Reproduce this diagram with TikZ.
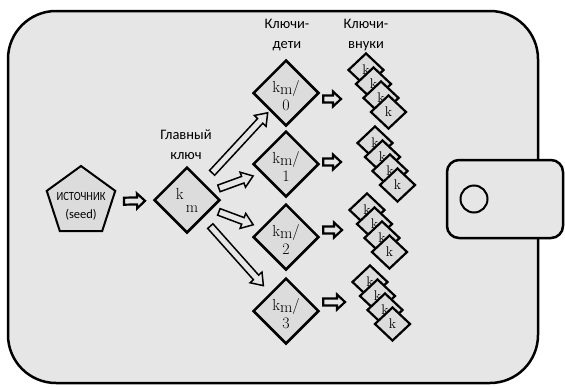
\documentclass[tikz,border=0pt]{standalone}
\usepackage{fontspec}
\newfontfamily\lblfont{Carlito}
\newfontfamily\condfont[FakeStretch=0.84]{Carlito}
\usetikzlibrary{shapes.geometric,calc}
\definecolor{wbg}{HTML}{E6E6E6}
\definecolor{dfill}{HTML}{DCDCDC}
\tikzset{
  harrow/.style n args={5}{to path={
    let \p1=($(\tikztostart)!#1!(\tikztotarget)$),
        \p2=($(\tikztotarget)!#2!(\tikztostart)$),
        \n1={atan2(\y2-\y1,\x2-\x1)}
    in ($(\p1)+(\n1+90:#3)$)
    -- ($(\p2)+(\n1:-#5)+(\n1+90:#3)$)
    -- ($(\p2)+(\n1:-#5)+(\n1+90:#4)$)
    -- (\p2)
    -- ($(\p2)+(\n1:-#5)+(\n1-90:#4)$)
    -- ($(\p2)+(\n1:-#5)+(\n1-90:#3)$)
    -- ($(\p1)+(\n1-90:#3)$) -- cycle}},
  bigarrow/.style 2 args={draw, line width=1.5pt, line join=miter, harrow={#1}{#2}{3.5pt}{8pt}{11pt}},
  smallarrow/.style 2 args={draw, line width=2.2pt, line join=miter, harrow={#1}{#2}{3.5pt}{7.5pt}{8pt}},
  kdia/.style={diamond, aspect=1, draw, line width=2.5pt, fill=dfill, inner sep=0pt, minimum width=66pt, minimum height=66pt},
  gdia/.style={diamond, aspect=1, draw, line width=2.2pt, fill=dfill, inner sep=0pt, minimum width=36pt, minimum height=34pt, font=\fontsize{14}{16}\selectfont},
  ktext/.style={font=\fontsize{16}{18}\selectfont, align=center, inner sep=0pt},
  lbl/.style={font=\lblfont\fontsize{14.5}{20}\selectfont, align=center, inner sep=0pt},
}
\begin{document}
\begin{tikzpicture}[x=1pt, y=-1pt]
\useasboundingbox (0,0) rectangle (565,386);
% wallet
\draw[line width=2.5pt, fill=wbg, rounded corners=48pt] (8,11) rectangle (538,383);
\draw[line width=2.5pt, fill=wbg, rounded corners=12pt] (447,160) rectangle (563,238);
\node[circle, draw, line width=2pt, minimum size=27pt, inner sep=0pt] (hole) at (474,199) {};
% labels
\node[lbl] (lchild) at (287,35) {Ключи-\\дети};
\node[lbl] (lgrand) at (366,35) {Ключи-\\внуки};
\node[lbl] (lmaster) at (186,145) {Главный\\ключ};
% source
\node[regular polygon, regular polygon sides=5, draw, line width=2pt, fill=dfill, minimum size=72pt, inner sep=0pt,
  label={[font=\lblfont\fontsize{12.5}{18}\selectfont, align=center, inner sep=0pt, yshift=-4pt]center:{\condfont ИСТОЧНИК}\\(seed)}] (src) at (81,202) {};
% master key
\node[kdia, label={[font=\fontsize{16}{13}\selectfont, align=left, inner sep=0pt]center:k\\\hspace*{10pt}m}] (km) at (187,200) {};
% children
\foreach \i/\y in {0/93,1/164,2/237,3/311}{
  \node[kdia, label={[ktext, yshift=-3pt]center:k\raisebox{-2pt}{m}/\\\i}] (k\i) at (286,\y) {};
}
% grandchildren
\foreach \i/\x/\y in {0/366/70,1/375/143,2/367/210,3/370/282}{
  \node[gdia] (g\i a) at (\x,\y) {k};
  \node[gdia] (g\i b) at (\x+7.5,\y+14) {k};
  \node[gdia] (g\i c) at (\x+15,\y+28) {k};
  \node[gdia] (g\i d) at (\x+22.5,\y+42) {k};
}
% arrow tips
\coordinate (t0) at (341,99);
\coordinate (t1) at (341,162);
\coordinate (t2) at (342,230);
\coordinate (t3) at (345,302);
% arrows
\draw[smallarrow={43pt}{42pt}] (src) to (km);
\draw[bigarrow={37pt}{27pt}] (km) to (k0);
\draw[bigarrow={34pt}{35pt}] (km) to (k1);
\draw[bigarrow={34pt}{35pt}] (km) to (k2);
\draw[bigarrow={35pt}{34pt}] (km) to (k3);
\foreach \i in {0,1,2,3}{
  \draw[smallarrow={3pt}{0pt}] (k\i.east |- t\i) to (t\i);
}
\end{tikzpicture}
\end{document}
